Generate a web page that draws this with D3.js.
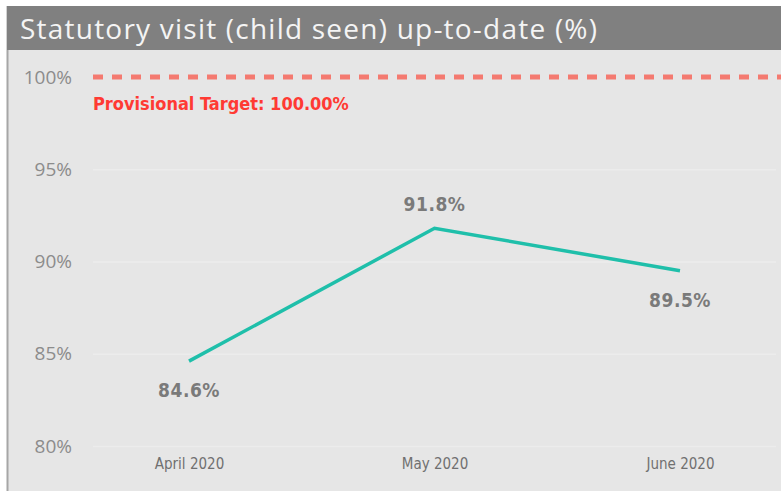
<!DOCTYPE html>
<html>
<head>
<meta charset="utf-8">
<script src="https://cdn.jsdelivr.net/npm/d3@7"></script>
<style>
  body { margin: 0; background: #fff; }
  svg { display: block; }
</style>
</head>
<body>
<svg id="mainSVG"></svg>
<script>
// data
let months = ['April 2020', 'May 2020', 'June 2020']
let values = [84.6, 91.8, 89.5]
let yTicks = [80, 85, 90, 95, 100]
let target = 100
let titleText = 'Statutory visit (child seen) up-to-date (%)'

let w = 781, h = 491
let m = {t: 77, r: 5, b: 45, l: 93}

let svg = d3.select('#mainSVG').attr('width', w).attr('height', h)

// panel background + left border
svg.append('rect')
    .attr('x', 7).attr('y', 6)
    .attr('width', w - 7).attr('height', h - 6)
    .attr('fill', '#e6e6e6')

svg.append('line')
    .attr('x1', 7.5).attr('x2', 7.5)
    .attr('y1', 6).attr('y2', h)
    .attr('stroke', '#a6a6a6')
    .attr('stroke-width', 2)

// title bar
svg.append('rect')
    .attr('x', 7).attr('y', 6)
    .attr('width', w - 7).attr('height', 44)
    .attr('fill', '#808080')

svg.append('text')
    .attr('x', 20).attr('y', 39)
    .attr('fill', '#f4f4f4')
    .attr('font-family', 'Open Sans, sans-serif')
    .attr('font-size', 28)
    .attr('textLength', 577)
    .attr('lengthAdjust', 'spacing')
    .text(titleText)

let y = d3.scaleLinear()
    .domain([80, 100])
    .range([h - m.b, m.t])

let x = d3.scalePoint()
    .domain(months)
    .range([189, 680])

// y gridlines + labels
let yAxis = svg.append('g')
    .attr('transform', `translate(${m.l}, 0)`)
    .call(d3.axisLeft(y).tickValues(yTicks).tickSize(-(776 - m.l)).tickFormat(d => d + '%'))

yAxis.select('.domain').remove()
yAxis.selectAll('.tick line')
    .attr('stroke', d => d === target ? 'none' : '#ececec')
    .attr('stroke-width', 1.5)
yAxis.selectAll('.tick text')
    .attr('x', -21)
    .attr('fill', '#8c8c8c')
    .attr('font-family', 'Open Sans, sans-serif')
    .attr('font-size', 19)

// x axis labels
let xAxis = svg.append('g')
    .attr('transform', `translate(0, ${h - m.b})`)
    .call(d3.axisBottom(x).tickSize(0).tickPadding(12))

xAxis.select('.domain').remove()
xAxis.selectAll('.tick text')
    .attr('fill', '#707070')
    .attr('font-family', 'DejaVu Sans Condensed, sans-serif')
    .attr('font-size', 15)

// target line
svg.append('line')
    .attr('x1', m.l).attr('x2', w)
    .attr('y1', y(target)).attr('y2', y(target))
    .attr('stroke', '#f47a70')
    .attr('stroke-width', 5)
    .attr('stroke-dasharray', '10 9')

svg.append('text')
    .attr('x', m.l).attr('y', y(target) + 33)
    .attr('fill', '#ff3a33')
    .attr('font-family', 'DejaVu Sans Condensed, sans-serif')
    .attr('font-weight', 'bold')
    .attr('font-size', 18)
    .text('Provisional Target: ' + target.toFixed(2) + '%')

// series line
let pts = months.map((mo, i) => ({mo, v: values[i]}))

svg.append('path')
    .datum(pts)
    .attr('fill', 'none')
    .attr('stroke', '#1fbfaa')
    .attr('stroke-width', 3.5)
    .attr('d', d3.line().x(d => x(d.mo)).y(d => y(d.v)))

// data labels: above for the peak, below otherwise
svg.selectAll('.dataLabel')
    .data(pts)
    .join('text')
    .attr('class', 'dataLabel')
    .attr('x', d => x(d.mo))
    .attr('y', (d, i) => i === 1 ? y(d.v) - 17 : y(d.v) + 36)
    .attr('text-anchor', 'middle')
    .attr('fill', '#7a7a7a')
    .attr('font-family', 'DejaVu Sans Condensed, sans-serif')
    .attr('font-weight', 'bold')
    .attr('font-size', 19)
    .attr('letter-spacing', 0.5)
    .text(d => d.v.toFixed(1) + '%')
</script>
</body>
</html>
